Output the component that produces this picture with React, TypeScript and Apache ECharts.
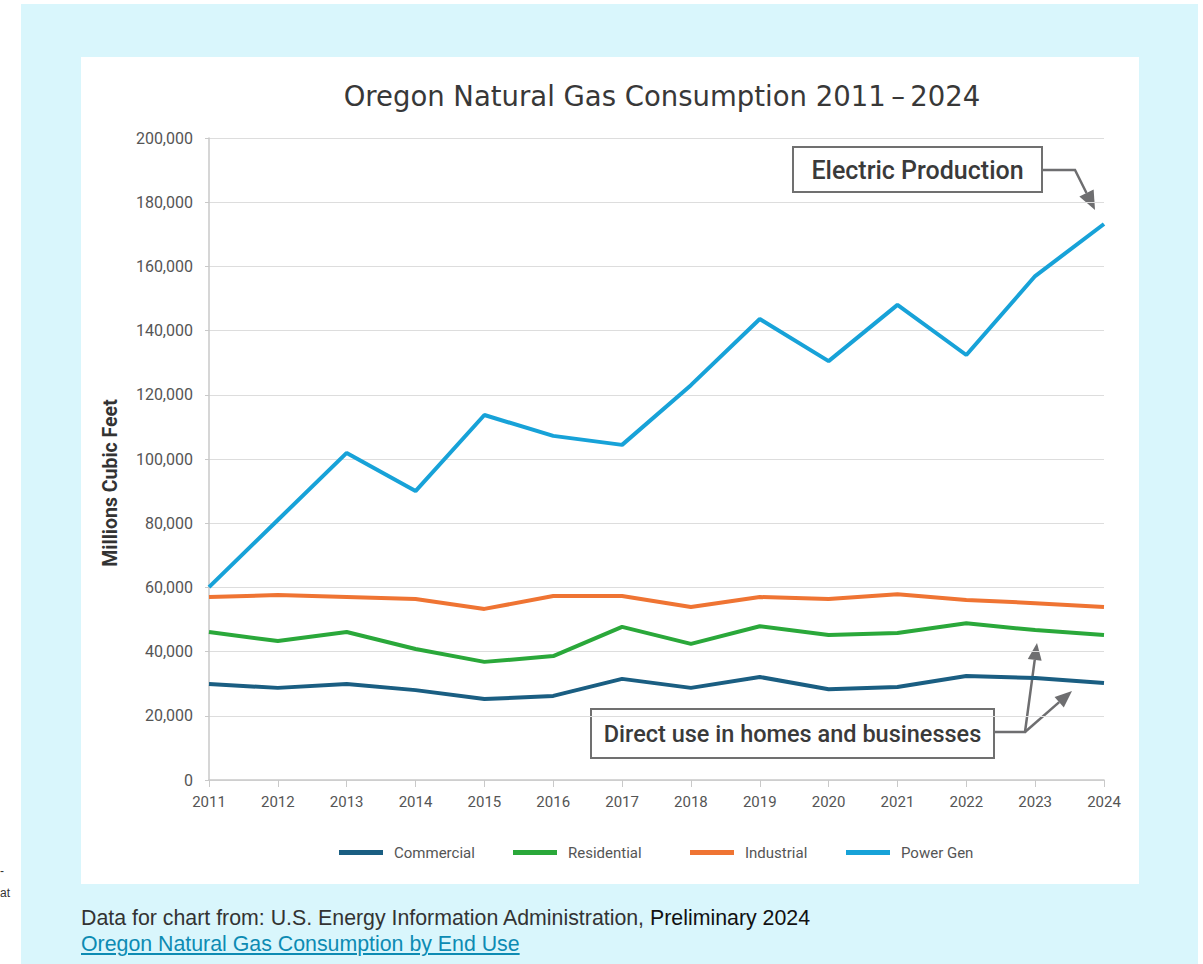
import React, { useEffect, useRef } from "react";
import * as echarts from "echarts";

const years = ["2011","2012","2013","2014","2015","2016","2017","2018","2019","2020","2021","2022","2023","2024"];
const commercial = [29900, 28700, 29900, 28000, 25200, 26200, 31500, 28700, 32100, 28300, 29000, 32400, 31800, 30200];
const residential = [46100, 43300, 46100, 40800, 36800, 38600, 47700, 42400, 47900, 45200, 45800, 48800, 46700, 45200];
const industrial = [57000, 57600, 57000, 56400, 53300, 57300, 57300, 53900, 57000, 56400, 57900, 56100, 55100, 53900];
const powerGen = [60100, 81000, 101900, 90000, 113700, 107200, 104400, 123000, 143600, 130500, 148000, 132400, 157000, 173200];
const seriesNames = ["Commercial", "Residential", "Industrial", "Power Gen"];
const seriesColors = ["#1a5e82", "#2aa83a", "#ef7433", "#17a2d8"];

const FONT = "Roboto, 'Noto Sans', sans-serif";
const TITLE_FONT = "'DejaVu Sans', Roboto, sans-serif";
const ARROW = "#6e6e70";
const legendLefts = [253, 427, 604, 760];

function arrow(x1: number, y1: number, x2: number, y2: number, len: number, half: number) {
  const dx = x2 - x1, dy = y2 - y1;
  const d = Math.sqrt(dx * dx + dy * dy);
  const ux = dx / d, uy = dy / d;
  const bx = x2 - ux * len, by = y2 - uy * len;
  const px = -uy * half, py = ux * half;
  return {
    base: [bx, by],
    head: {
      type: "polygon",
      shape: { points: [[x2, y2], [bx + px, by + py], [bx - px, by - py]] },
      style: { fill: ARROW },
      silent: true,
    },
  };
}

export default function App() {
  const ref = useRef<HTMLDivElement>(null);
  useEffect(() => {
    if (!ref.current) return;
    const chart = echarts.init(ref.current, undefined, { renderer: "svg" });
    const a1 = arrow(994, 113, 1014, 153, 19, 8);
    const a2 = arrow(944, 675, 956, 586, 17, 7);
    const a3 = arrow(944, 675, 991, 634, 17, 7);
    const data = [commercial, residential, industrial, powerGen];
    chart.setOption({
      animation: false,
      textStyle: { fontFamily: FONT },
      title: {
        text: "Oregon Natural Gas Consumption 2011\u2009\u2013\u20092024",
        left: 576,
        top: 20,
        textAlign: "center",
        textStyle: { fontFamily: TITLE_FONT, fontSize: 27.5, fontWeight: "normal", color: "#383838" },
      },
      grid: { left: 128, right: 35, top: 81, bottom: 104, containLabel: false },
      legend: seriesNames.map((n, i) => ({
        left: legendLefts[i],
        top: 783,
        icon: "rect",
        itemWidth: 44,
        itemHeight: 5,
        data: [n],
        textStyle: { fontFamily: FONT, fontSize: 15, color: "#555", padding: [0, 0, 0, 6] },
      })),
      xAxis: {
        type: "category",
        data: years,
        boundaryGap: false,
        axisLine: { lineStyle: { color: "#c9c9c9", width: 1.5 } },
        axisTick: { show: true, length: 7, lineStyle: { color: "#c9c9c9" } },
        axisLabel: { fontFamily: FONT, fontSize: 15, color: "#555", margin: 14 },
      },
      yAxis: {
        type: "value",
        min: 0,
        max: 200000,
        interval: 20000,
        axisLine: { show: true, lineStyle: { color: "#c9c9c9", width: 1.5 } },
        axisTick: { show: true, length: 4, lineStyle: { color: "#c9c9c9" } },
        splitLine: { lineStyle: { color: "#dddddd" } },
        axisLabel: {
          fontFamily: FONT, fontSize: 16, color: "#555", margin: 16,
          formatter: (v: number) => v.toLocaleString("en-US"),
        },
      },
      series: seriesNames.map((n, i) => ({
        name: n,
        type: "line",
        data: data[i],
        symbol: "none",
        color: seriesColors[i],
        lineStyle: { width: 4, color: seriesColors[i] },
      })),
      graphic: [
        {
          type: "text",
          x: 29, y: 426, rotation: Math.PI / 2,
          style: { text: "Millions Cubic Feet", fontFamily: FONT, fontSize: 19.5, fontWeight: "bold", fill: "#333", align: "center", verticalAlign: "middle" },
        },
        {
          type: "rect",
          shape: { x: 712, y: 90, width: 249, height: 45 },
          style: { fill: "#fff", stroke: "#707070", lineWidth: 2 },
        },
        {
          type: "text", x: 836.5, y: 113,
          style: { text: "Electric Production", fontFamily: FONT, fontSize: 25, fontWeight: 500, fill: "#3a3a3a", align: "center", verticalAlign: "middle" },
        },
        {
          type: "polyline",
          shape: { points: [[962, 113], [994, 113], a1.base] },
          style: { stroke: ARROW, lineWidth: 2.5, fill: "none" },
        },
        a1.head,
        {
          type: "rect",
          shape: { x: 510, y: 652, width: 403, height: 49 },
          style: { fill: "#fff", stroke: "#707070", lineWidth: 2 },
        },
        {
          type: "text", x: 711.5, y: 677,
          style: { text: "Direct use in homes and businesses", fontFamily: FONT, fontSize: 23.5, fontWeight: 500, fill: "#3a3a3a", align: "center", verticalAlign: "middle" },
        },
        {
          type: "polyline",
          shape: { points: [[914, 675], [944, 675], a2.base] },
          style: { stroke: ARROW, lineWidth: 2.5, fill: "none" },
        },
        a2.head,
        {
          type: "polyline",
          shape: { points: [[944, 675], a3.base] },
          style: { stroke: ARROW, lineWidth: 2.5, fill: "none" },
        },
        a3.head,
      ],
    });
    return () => chart.dispose();
  }, []);

  return (
    <div style={{ position: "fixed", left: 0, top: 0, width: 1203, height: 964, background: "#fff", overflow: "hidden" }}>
      <div style={{ position: "absolute", left: 0, top: 860, fontFamily: "'Liberation Sans', Arial, sans-serif", fontSize: 12, color: "#333", lineHeight: "22px" }}>
        <div>-</div>
        <div>at</div>
      </div>
      <div style={{ position: "absolute", left: 21, top: 4, width: 1177, height: 960, background: "#d9f6fc" }} />
      <div style={{ position: "absolute", left: 81, top: 57, width: 1058, height: 827, background: "#fff" }} />
      <div ref={ref} style={{ position: "absolute", left: 81, top: 57, width: 1058, height: 827 }} />
      <div style={{ position: "absolute", left: 81, top: 905, fontFamily: "'Liberation Sans', Arial, sans-serif", fontSize: 21.33, lineHeight: "26px", color: "#333" }}>
        <div>Data for chart from: U.S. Energy Information Administration, <span style={{ color: "#111" }}>Preliminary 2024</span></div>
        <div><a href="#" style={{ color: "#0d8bb3", textDecoration: "underline" }}>Oregon Natural Gas Consumption by End Use</a></div>
      </div>
    </div>
  );
}
